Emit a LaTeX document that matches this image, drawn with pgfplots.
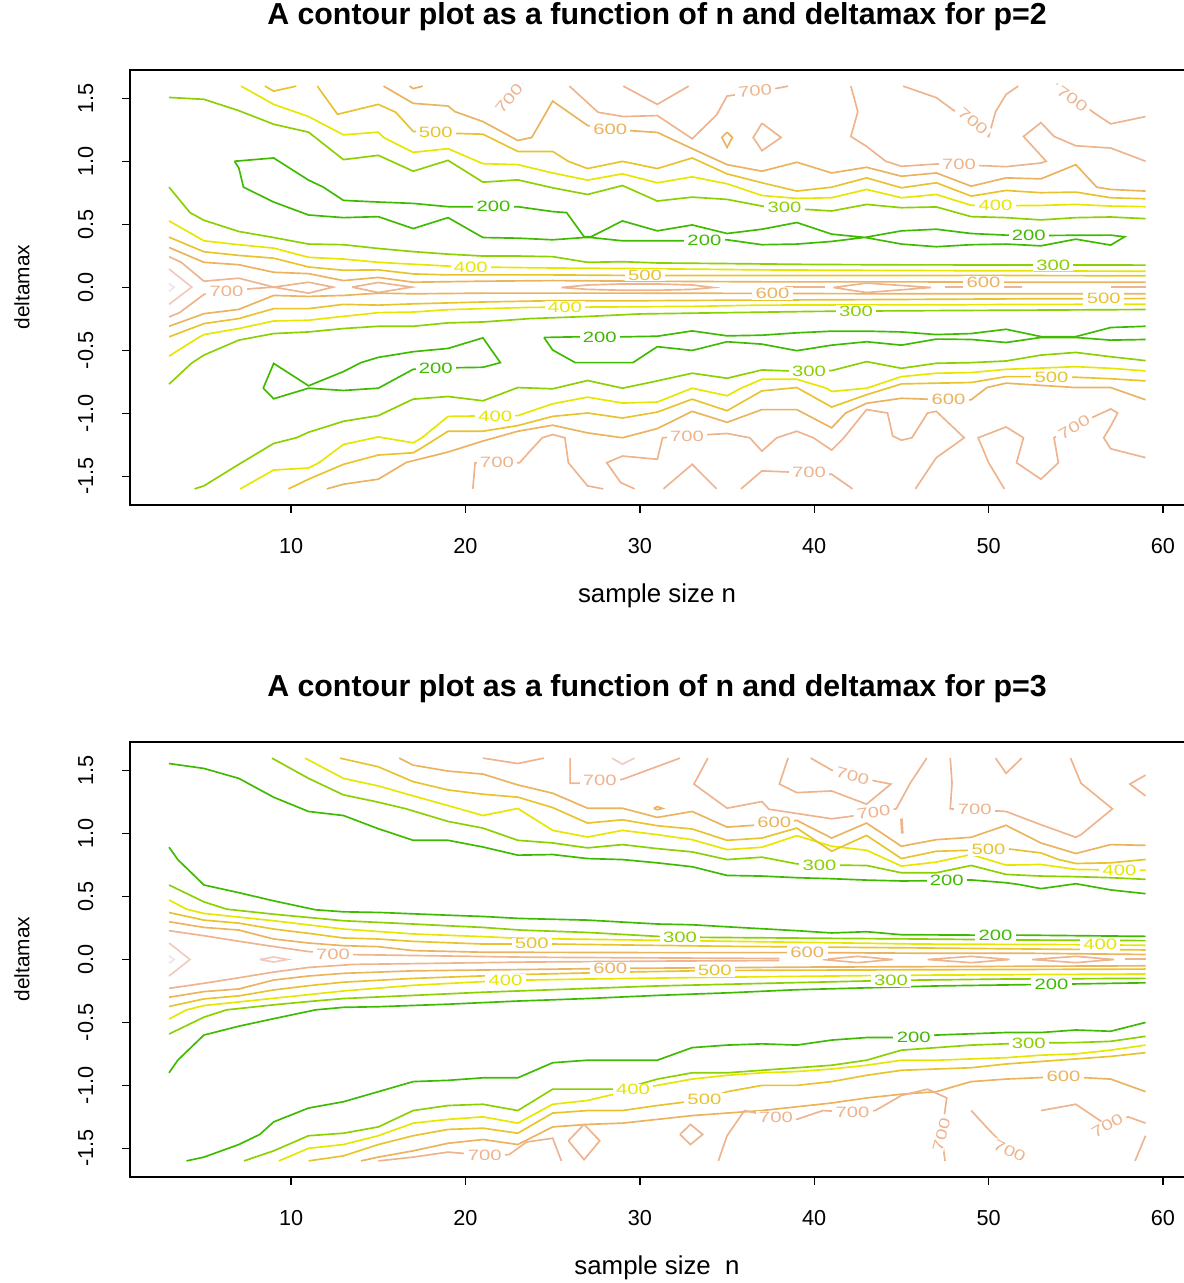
\documentclass[border=0pt]{standalone}
\usepackage{fontspec}
\setmainfont{Liberation Sans}
\usepackage{graphicx}
\usepackage{pgfplots}
\pgfplotsset{compat=1.18}
\definecolor{c200}{HTML}{3EBB00}
\definecolor{c300}{HTML}{8BD000}
\definecolor{c400}{HTML}{E6E600}
\definecolor{c500}{HTML}{E8C32E}
\definecolor{c600}{HTML}{EBB35E}
\definecolor{c700}{HTML}{EDB48E}
\definecolor{c800}{HTML}{F0CAC0}
\definecolor{c900}{HTML}{E8E8E8}
\pgfplotsset{
  rax/.style={
    scale only axis, width=632.76pt, height=261pt,
    xmin=0.76, xmax=61.24, ymin=-1.728, ymax=1.728,
    axis line style={black, line width=0.8pt},
    tick align=outside, xtick pos=left, ytick pos=left,
    major tick length=4.5pt,
    every tick/.style={black, line width=0.8pt},
    xtick={10,20,30,40,50,60},
    xticklabels={10,20,30,40,50,60},
    ytick={-1.5,-1,-0.5,0,0.5,1,1.5},
    yticklabels={-1.5,-1.0,-0.5,0.0,0.5,1.0,1.5},
    /pgf/number format/assume math mode=true,
    ticklabel style={font=\fontsize{13}{13}\selectfont},
    xticklabel style={yshift=-12pt},
    yticklabel style={xshift=-14pt, rotate=90, anchor=south},
  },
  l200/.style={color=c200, line width=1pt, mark=none},
  l300/.style={color=c300, line width=1pt, mark=none},
  l400/.style={color=c400, line width=1pt, mark=none},
  l500/.style={color=c500, line width=1pt, mark=none},
  l600/.style={color=c600, line width=1pt, mark=none},
  l700/.style={color=c700, line width=1pt, mark=none},
  l800/.style={color=c800, line width=1pt, mark=none},
  l900/.style={color=c900, line width=1pt, mark=none},
}
\tikzset{clab/.style={fill=white, inner xsep=2pt, inner ysep=0.5pt, font=\fontsize{9}{9}\selectfont}}
\newcommand{\cl}[5][0]{\node[clab, text=#2, rotate=#1] at (axis cs:#3,#4) {\scalebox{1.35}[1]{#5}};}
\begin{document}
\begin{tikzpicture}
\useasboundingbox (0,0) rectangle (709.8pt,-769.8pt);
% ================= PANEL 1 =================
\begin{axis}[rax, at={(78pt,-42pt)}, anchor=north west]
\addplot[l300] coordinates {(3,1.51)(5,1.495)(7,1.405)(9,1.297)(11,1.234)(13,1.016)(15,1.05)(17,0.924)(19,1.01)(21,0.837)(23,0.855)(25,0.792)(27,0.739)(29,0.81)(31,0.687)(33,0.718)(35,0.70)(37,0.647)(39,0.625)(41,0.608)(43,0.66)(45,0.634)(47,0.64)(49,0.563)(51,0.555)(53,0.537)(55,0.555)(57,0.56)(59,0.547)};
\addplot[l400] coordinates {(7.13,1.6)(9,1.455)(11,1.358)(13,1.213)(15,1.234)(15.3,1.192)(17,1.074)(19,1.103)(21,0.984)(23,0.976)(25,0.91)(27,0.853)(29,0.903)(31,0.832)(33,0.879)(35,0.824)(37,0.731)(39,0.708)(41,0.713)(43,0.779)(45,0.713)(47,0.739)(49,0.653)(51,0.65)(53,0.652)(55,0.66)(57,0.647)(59,0.642)};
\addplot[l500] coordinates {(11.5,1.6)(12.66,1.376)(15,1.455)(16,1.392)(17,1.24)(19,1.226)(21,1.218)(23,1.081)(25,1.081)(25.9,1.002)(27,0.945)(29,1.002)(31,0.945)(33,1.029)(35,0.903)(37,0.832)(39,0.766)(41,0.797)(43,0.871)(45,0.792)(47,0.832)(49,0.726)(51,0.771)(53,0.753)(55,0.758)(57,0.713)(59,0.705)};
\addplot[l600] coordinates {(15.3,1.6)(17,1.463)(19,1.442)(19.4,1.397)(21,1.318)(23,1.168)(23.8,1.192)(25,1.481)(27,1.287)(29,1.25)(31,1.232)(33,1.103)(35,0.976)(37,0.924)(39,0.995)(41,0.91)(43,0.955)(45,0.884)(47,0.91)(49,0.805)(51,0.871)(53,0.863)(55,0.976)(56.2,0.797)(57,0.779)(59,0.766)};
\addplot[l500] coordinates {(8.5,1.6)(9,1.56)(10.3,1.6)};
\addplot[l600] coordinates {(16.8,1.6)(17,1.58)(17.55,1.6)};
\addplot[l700] coordinates {(21.66,1.397)(23.3,1.62)};
\addplot[l700] coordinates {(25.96,1.6)(27.6,1.392)(29.05,1.358)(31,1.366)(33,1.182)(34.4,1.371)(35,1.521)(35.4,1.529)(37.4,1.57)(38.5,1.6)};
\addplot[l700] coordinates {(29.05,1.6)(31,1.455)(32.8,1.6)};
\addplot[l700] coordinates {(37,1.305)(38.1,1.192)(37,1.087)(36.5,1.192)(37,1.305)};
\addplot[l600] coordinates {(35,1.234)(35.3,1.192)(35,1.113)(34.7,1.192)(35,1.234)};
\addplot[l700] coordinates {(42.1,1.6)(42.5,1.397)(42.1,1.2)(43,1.121)(44.1,1.003)(45,0.963)(47,0.981)(49.6,0.968)(51,0.96)(53,0.989)(53.3,1.003)(52,1.2)(53,1.31)(53.75,1.2)(55,1.126)(57,1.108)(59,1.003)};
\addplot[l700] coordinates {(45.1,1.6)(47,1.508)(48.1,1.397)(50,1.2)(50.4,1.397)(51,1.534)(51.7,1.6)};
\addplot[l700] coordinates {(53.9,1.62)(56,1.392)(57,1.3)(59,1.358)};
\addplot[l200] coordinates {(6.75,1.003)(9,1.029)(11,0.853)(11.85,0.797)(13,0.692)(15,0.679)(17,0.668)(19,0.642)(21,0.642)(23,0.642)(25,0.603)(25.8,0.595)(26.8,0.403)(27.2,0.403)(29,0.529)(31,0.45)(33,0.497)(35,0.429)(37,0.463)(39,0.516)(41,0.424)(42.9,0.398)(45,0.45)(47,0.463)(49,0.429)(51,0.416)(53,0.413)(55,0.415)(57,0.416)(57.8,0.403)(57,0.337)(55,0.384)(53,0.331)(51,0.345)(49,0.34)(47,0.324)(45,0.345)(42.9,0.398)(41,0.366)(39,0.345)(37,0.34)(35,0.379)(33,0.371)(31,0.371)(29,0.371)(27.2,0.397)(26.8,0.397)(25,0.379)(23,0.392)(21,0.397)(19,0.555)(17,0.468)(15,0.563)(13,0.555)(11,0.576)(9,0.679)(7.27,0.797)(7,0.95)(6.75,1.003)};
\addplot[l300] coordinates {(3,0.797)(4.2,0.595)(5,0.534)(7,0.445)(9,0.397)(11,0.345)(13,0.34)(15,0.31)(17,0.285)(19,0.265)(21,0.25)(23,0.25)(25,0.245)(27,0.2)(29,0.205)(31,0.195)(35,0.19)(40,0.183)(45,0.18)(50,0.179)(59,0.178)};
\addplot[l400] coordinates {(3,0.529)(5,0.371)(7,0.34)(9,0.313)(11,0.24)(13,0.226)(15,0.2)(17,0.185)(19,0.17)(21,0.162)(25,0.155)(30,0.15)(37,0.14)(45,0.135)(52,0.132)(59,0.129)};
\addplot[l500] coordinates {(3,0.40)(5,0.284)(7,0.255)(9,0.233)(11,0.163)(13,0.137)(15,0.14)(17,0.108)(19,0.1)(21,0.1)(25,0.1)(30,0.095)(37,0.095)(45,0.095)(52,0.095)(59,0.093)};
\addplot[l600] coordinates {(3,0.318)(5,0.2)(7,0.181)(9,0.121)(11,0.11)(13,0.055)(15,0.08)(17,0.042)(21,0.05)(25,0.055)(30,0.05)(37,0.045)(45,0.045)(52,0.042)(59,0.042)};
\addplot[l700] coordinates {(3,0.245)(3.7,0.2)(5,0.05)(7,0.074)(9,0.003)};
\addplot[l700] coordinates {(3,-0.234)(3.6,-0.2)(5,-0.055)(7.65,-0.01)(9,0.003)};
\addplot[l700] coordinates {(9,0.003)(11,0.042)(12.4,0.003)(11,-0.045)(9,0.003)};
\addplot[l700] coordinates {(13.5,0.003)(15,0.04)(16.9,0.003)(15,-0.04)(13.5,0.003)};
\addplot[l700] coordinates {(25.5,0)(27,0.02)(29,0.028)(31,0.028)(33,0.02)(34.2,0)(33,-0.015)(31,-0.022)(29,-0.022)(27,-0.015)(25.5,0)};
\addplot[l700] coordinates {(41.1,0)(43,0.035)(46.7,0)(43,-0.04)(41.1,0)};
\addplot[l700] coordinates {(38.3,0.003)(40.6,0.003)};
\addplot[l700] coordinates {(47.5,0.003)(51.9,0.003)};
\addplot[l700] coordinates {(57,0.003)(59,0.003)};
\addplot[l800] coordinates {(3,0.147)(4.3,0.003)(3,-0.134)};
\addplot[l900] coordinates {(3,0.03)(3.3,0.003)(3,-0.03)};
\addplot[l600] coordinates {(3,-0.308)(5,-0.208)(7,-0.174)(9,-0.063)(11,-0.071)(13,-0.063)(15,-0.045)(17,-0.05)(21,-0.045)(25,-0.045)(30,-0.045)(37,-0.047)(45,-0.05)(52,-0.05)(59,-0.05)};
\addplot[l500] coordinates {(3,-0.392)(5,-0.287)(7,-0.247)(9,-0.168)(11,-0.168)(13,-0.134)(15,-0.14)(17,-0.13)(21,-0.115)(25,-0.105)(30,-0.105)(37,-0.1)(45,-0.095)(52,-0.09)(59,-0.088)};
\addplot[l400] coordinates {(3,-0.545)(4.6,-0.405)(5,-0.374)(7,-0.326)(9,-0.266)(11,-0.26)(13,-0.229)(15,-0.2)(17,-0.195)(19,-0.176)(21,-0.168)(23.7,-0.158)(28,-0.155)(33,-0.15)(37,-0.14)(45,-0.138)(52,-0.135)(59,-0.132)};
\addplot[l300] coordinates {(3,-0.768)(4.3,-0.6)(5,-0.537)(7,-0.418)(9,-0.366)(11,-0.353)(13,-0.326)(15,-0.308)(17,-0.308)(19,-0.281)(21,-0.274)(23.7,-0.247)(27,-0.23)(30,-0.21)(35,-0.2)(40,-0.19)(45,-0.185)(52,-0.18)(59,-0.175)};
\addplot[l200] coordinates {(8.4,-0.8)(9,-0.603)(11,-0.781)(13,-0.668)(14,-0.597)(15,-0.555)(17,-0.51)(19,-0.484)(21,-0.4)(22,-0.597)(21,-0.634)(19.6,-0.637)(17,-0.65)(15,-0.8)(13,-0.818)(11,-0.8)(9,-0.884)(8.4,-0.8)};
\addplot[l200] coordinates {(24.5,-0.397)(26.3,-0.392)(29,-0.392)(31,-0.387)(33,-0.345)(35,-0.384)(37,-0.379)(39,-0.36)(41,-0.347)(43,-0.347)(45,-0.353)(47,-0.374)(49,-0.366)(51,-0.332)(53,-0.39)(55,-0.39)(57,-0.318)(59,-0.308)};
\addplot[l200] coordinates {(24.5,-0.397)(25,-0.497)(26.3,-0.597)(29.6,-0.597)(31,-0.47)(33,-0.5)(35,-0.431)(37,-0.45)(39,-0.502)(41,-0.458)(43,-0.431)(45,-0.458)(47,-0.41)(49,-0.413)(51,-0.437)(53,-0.397)(55,-0.397)(57,-0.418)(59,-0.413)};
\addplot[l300] coordinates {(4.46,-1.6)(5,-1.576)(7,-1.405)(9,-1.239)(10.3,-1.194)(11,-1.15)(13,-1.063)(15,-1.018)(17,-0.887)(19,-0.866)(21,-0.9)(23,-0.795)(25,-0.805)(27,-0.739)(29,-0.8)(31,-0.742)(33,-0.681)(35,-0.721)(37,-0.655)(39,-0.665)(41,-0.66)(43,-0.589)(45,-0.642)(47,-0.602)(49,-0.597)(51,-0.584)(53,-0.537)(55,-0.516)(57,-0.55)(59,-0.581)};
\addplot[l400] coordinates {(7.08,-1.6)(9,-1.45)(11,-1.434)(11.6,-1.392)(13,-1.247)(15,-1.187)(17,-1.234)(17.5,-1.194)(19,-1.024)(21,-1.02)(23,-1.018)(25,-0.924)(27,-0.871)(29,-0.918)(31,-0.91)(33,-0.8)(35,-0.86)(35.8,-0.8)(37,-0.729)(39,-0.729)(40.7,-0.8)(41,-0.826)(43,-0.8)(45,-0.708)(47,-0.681)(49,-0.676)(51,-0.65)(53,-0.64)(55,-0.629)(57,-0.642)(59,-0.663)};
\addplot[l500] coordinates {(9.85,-1.6)(11,-1.523)(13,-1.405)(15,-1.331)(17,-1.313)(17.5,-1.273)(19,-1.142)(21,-1.142)(23,-1.097)(25,-1.024)(27,-0.997)(29,-1.037)(31,-0.99)(33,-0.887)(35,-0.979)(37,-0.821)(39,-0.795)(41,-0.95)(43,-0.852)(45,-0.766)(47,-0.76)(49,-0.755)(51,-0.708)(53,-0.708)(55,-0.713)(57,-0.725)(59,-0.742)};
\addplot[l600] coordinates {(12.05,-1.6)(13,-1.563)(15,-1.523)(16.6,-1.39)(19,-1.307)(21,-1.22)(23,-1.142)(25,-1.094)(27,-1.155)(29,-1.194)(31,-1.121)(33,-0.984)(35,-1.071)(37,-0.97)(39,-0.97)(41,-1.115)(41.8,-0.997)(43,-0.92)(45,-0.88)(47,-0.89)(49,-0.892)(49.9,-0.795)(51,-0.76)(55,-0.795)(57,-0.795)(59,-0.892)};
\addplot[l700] coordinates {(20.42,-1.6)(20.55,-1.392)(23.1,-1.392)(23.7,-1.3)(24.4,-1.194)(25,-1.168)(25.7,-1.194)(25.9,-1.392)(27,-1.576)(27.9,-1.6)};
\addplot[l700] coordinates {(29.7,-1.6)(28.9,-1.55)(28.1,-1.392)(29,-1.339)(31,-1.365)(31.3,-1.194)(34,-1.168)(35,-1.16)(36.3,-1.194)(37,-1.3)(37.85,-1.194)(39,-1.142)(39.95,-1.194)(41,-1.292)(41.7,-1.194)(43,-0.97)(44.2,-0.997)(44.5,-1.18)(45,-1.213)(45.6,-1.194)(46.5,-0.997)(47,-0.984)(48.6,-1.194)(47,-1.352)(45.8,-1.6)};
\addplot[l700] coordinates {(31.35,-1.6)(33,-1.405)(34.4,-1.6)};
\addplot[l700] coordinates {(35.8,-1.6)(37,-1.457)(38.4,-1.465)(41,-1.484)(42.2,-1.6)};
\addplot[l700] coordinates {(50.9,-1.6)(50,-1.392)(49.4,-1.194)(51,-1.108)(52,-1.194)(51.6,-1.392)(53,-1.523)(54,-1.392)(53.75,-1.194)(56,-1.029)(57,-0.965)(57.4,-0.997)(57,-1.102)(56.6,-1.194)(57,-1.281)(59,-1.352)};
\cl{c300}{38.3}{0.635}{300}
\cl{c400}{50.4}{0.65}{400}
\cl{c500}{18.3}{1.23}{500}
\cl{c600}{28.3}{1.26}{600}
\cl[50]{c700}{22.5}{1.5}{700}
\cl[5]{c700}{36.6}{1.56}{700}
\cl{c700}{48.3}{0.975}{700}
\cl[-40]{c700}{49.1}{1.32}{700}
\cl[-35]{c700}{54.8}{1.5}{700}
\cl{c200}{21.6}{0.642}{200}
\cl{c200}{33.7}{0.376}{200}
\cl{c200}{52.3}{0.414}{200}
\cl{c300}{53.7}{0.179}{300}
\cl{c400}{20.3}{0.162}{400}
\cl{c500}{30.3}{0.098}{500}
\cl{c600}{49.7}{0.042}{600}
\cl{c700}{6.3}{-0.03}{700}
\cl{c600}{37.6}{-0.047}{600}
\cl{c500}{56.6}{-0.088}{500}
\cl{c400}{25.7}{-0.157}{400}
\cl{c300}{42.4}{-0.187}{300}
\cl{c200}{18.3}{-0.64}{200}
\cl{c200}{27.7}{-0.392}{200}
\cl{c300}{39.7}{-0.663}{300}
\cl{c400}{21.7}{-1.02}{400}
\cl{c500}{53.6}{-0.71}{500}
\cl{c600}{47.7}{-0.892}{600}
\cl{c700}{21.8}{-1.392}{700}
\cl{c700}{32.7}{-1.18}{700}
\cl{c700}{39.7}{-1.47}{700}
\cl[30]{c700}{54.9}{-1.11}{700}
\end{axis}
% ================= PANEL 2 =================
\begin{axis}[rax, at={(78pt,-445.2pt)}, anchor=north west]
\addplot[l200] coordinates {(3,1.557)(5,1.518)(7,1.439)(9,1.289)(11,1.176)(13,1.144)(15,1.039)(17,0.947)(19,0.947)(21,0.894)(23,0.829)(25,0.834)(27,0.802)(29,0.794)(31,0.768)(33,0.737)(35,0.668)(37,0.663)(39,0.65)(41,0.642)(43,0.631)(45,0.624)(47,0.626)(49,0.632)(51,0.61)(51.7,0.597)(53,0.563)(55,0.602)(57,0.553)(59,0.523)};
\addplot[l300] coordinates {(8.9,1.6)(11,1.439)(13,1.308)(15,1.25)(16.6,1.197)(19,1.097)(21,1.044)(23,0.947)(25,0.926)(27,0.887)(29,0.913)(31,0.881)(33,0.855)(35,0.794)(37,0.813)(39,0.76)(41,0.75)(43,0.747)(45,0.689)(47,0.689)(49,0.747)(51,0.676)(53,0.663)(55,0.658)(57,0.65)(59,0.637)};
\addplot[l400] coordinates {(10.8,1.6)(13,1.439)(15,1.379)(17,1.3)(19,1.223)(21,1.144)(23,1.2)(25,1.026)(27,0.973)(29,1.026)(31,0.992)(33,0.952)(35,0.873)(37,0.892)(39,0.984)(41,0.9)(43,0.868)(45,0.742)(47,0.774)(49,0.834)(51,0.75)(53,0.755)(55,0.716)(57,0.712)(59,0.71)};
\addplot[l500] coordinates {(12.8,1.6)(15,1.531)(17,1.413)(19,1.347)(21,1.313)(23,1.29)(25,1.207)(27,1.084)(29,1.11)(31,1.063)(33,1.037)(35,0.947)(37,0.965)(39,1.044)(41,0.86)(43,0.986)(45,0.802)(47,0.86)(49,0.868)(51,0.881)(53,0.847)(54,0.795)(55,0.763)(57,0.768)(59,0.795)};
\addplot[l600] coordinates {(16.2,1.6)(17,1.544)(19,1.497)(21,1.473)(23,1.387)(25,1.321)(27,1.202)(29,1.202)(31,1.129)(33,1.176)(35,1.052)(37,1.071)(39,1.105)(41,0.965)(43,1.084)(45,0.9)(47,0.952)(49,0.971)(51,1.066)(53,0.926)(55,0.842)(57,0.913)(59,0.907)};
\addplot[l700] coordinates {(21,1.6)(23,1.557)(24.5,1.6)};
\addplot[l700] coordinates {(26,1.6)(26,1.4)(26.4,1.4)(29,1.431)(32.3,1.6)};
\addplot[l800] coordinates {(28.4,1.6)(29,1.552)(29.7,1.6)};
\addplot[l700] coordinates {(33.9,1.6)(33.1,1.394)(35,1.202)(37,1.255)(37.4,1.194)(41,1.118)(42,1.136)(44.7,1.197)(45.5,1.4)(46.45,1.6)};
\addplot[l700] coordinates {(38.5,1.6)(38,1.394)(39,1.326)(41,1.339)(43,1.234)(44.4,1.394)(43.5,1.418)(41,1.505)(39.8,1.6)};
\addplot[l700] coordinates {(47.8,1.6)(47.9,1.4)(47.8,1.197)(49.2,1.185)(50.5,1.18)(51,1.176)(53,1.071)(55,0.971)(55.3,0.992)(57.1,1.197)(55.3,1.4)(54.7,1.6)};
\addplot[l700] coordinates {(50.4,1.6)(51,1.479)(51.9,1.6)};
\addplot[l700] coordinates {(59,1.465)(58.1,1.394)(59,1.3)};
\addplot[l700, line width=1.6pt] coordinates {(45,1.12)(45.05,1.0)};
\addplot[l600] coordinates {(30.8,1.2)(31,1.215)(31.3,1.2)(31,1.19)(30.8,1.2)};
\addplot[l200] coordinates {(3,0.892)(3.5,0.794)(5,0.592)(7,0.531)(9,0.466)(11.4,0.395)(13,0.379)(15,0.374)(19,0.352)(21,0.342)(23.13,0.326)(27,0.313)(31,0.282)(33,0.276)(35,0.26)(39,0.229)(41,0.211)(43,0.221)(45,0.197)(49,0.194)(51.6,0.194)(59,0.184)};
\addplot[l300] coordinates {(3,0.592)(5,0.458)(6.3,0.4)(9,0.36)(11,0.334)(13,0.308)(15,0.295)(17,0.282)(19,0.268)(21,0.255)(23.13,0.234)(27,0.215)(31,0.184)(33.6,0.176)(46,0.163)(52,0.155)(59,0.15)};
\addplot[l400] coordinates {(3,0.473)(4,0.4)(5,0.366)(9,0.308)(13,0.242)(17,0.203)(21,0.182)(23.13,0.168)(35,0.145)(46,0.123)(55,0.118)(59,0.113)};
\addplot[l500] coordinates {(3,0.373)(5,0.313)(7,0.289)(9,0.242)(11,0.208)(13,0.171)(15,0.163)(17,0.144)(21,0.123)(25,0.123)(35,0.105)(46,0.092)(52,0.084)(59,0.076)};
\addplot[l600] coordinates {(3,0.3)(5,0.255)(7,0.234)(9,0.163)(11,0.131)(13,0.11)(15,0.102)(17,0.071)(21,0.058)(30,0.055)(39.6,0.055)(46,0.05)(52,0.05)(59,0.04)};
\addplot[l700] coordinates {(3,0.229)(5,0.189)(7,0.145)(9,0.103)(11,0.063)(13.6,0.039)(23.7,0.018)(32,0.012)(38,0.008)};
\addplot[l800] coordinates {(3,0.131)(4.2,0)(3,-0.131)};
\addplot[l900] coordinates {(3,0.03)(3.3,0)(3,-0.03)};
\addplot[l800] coordinates {(8.2,0)(9,0.02)(9.8,0)(9,-0.02)(8.2,0)};
\addplot[l700] coordinates {(3,-0.229)(5,-0.189)(7,-0.145)(9,-0.1)(11,-0.063)(13.6,-0.039)(23.7,-0.02)(32,-0.012)(38,-0.008)};
\addplot[l700] coordinates {(40.5,0)(42.5,0.025)(44.5,0)(42.5,-0.025)(40.5,0)};
\addplot[l700] coordinates {(46.5,0)(49,0.025)(51.2,0)(49,-0.025)(46.5,0)};
\addplot[l700] coordinates {(52.5,0)(55,0.025)(57.2,0)(55,-0.025)(52.5,0)};
\addplot[l700] coordinates {(57.8,0.005)(59,0.005)};
\addplot[l600] coordinates {(3,-0.3)(5,-0.255)(7,-0.234)(9,-0.163)(11,-0.131)(13,-0.11)(17,-0.09)(23,-0.08)(28.3,-0.071)(40,-0.06)(50,-0.055)(59,-0.05)};
\addplot[l500] coordinates {(3,-0.373)(5,-0.313)(7,-0.289)(9,-0.242)(11,-0.208)(13,-0.18)(17,-0.15)(23,-0.12)(29,-0.1)(34.3,-0.087)(45,-0.082)(59,-0.076)};
\addplot[l400] coordinates {(3,-0.473)(4,-0.4)(5,-0.366)(9,-0.308)(13,-0.25)(17,-0.205)(22.3,-0.166)(27,-0.155)(35,-0.14)(45,-0.125)(59,-0.115)};
\addplot[l300] coordinates {(3,-0.592)(5,-0.458)(6.3,-0.4)(9,-0.36)(11,-0.334)(13,-0.31)(17,-0.285)(21,-0.26)(25,-0.24)(31,-0.21)(37,-0.19)(44.4,-0.166)(51,-0.155)(59,-0.15)};
\addplot[l200] coordinates {(3,-0.9)(3.5,-0.8)(5,-0.6)(7,-0.53)(9,-0.47)(11.4,-0.4)(13,-0.38)(15,-0.375)(19,-0.355)(23,-0.33)(27,-0.31)(31,-0.285)(35,-0.265)(39,-0.24)(43,-0.225)(47,-0.21)(53.6,-0.197)(59,-0.185)};
\addplot[l200] coordinates {(4,-1.6)(5,-1.57)(7,-1.47)(8.2,-1.39)(9,-1.29)(11,-1.18)(13,-1.13)(15,-1.05)(17,-0.97)(19,-0.96)(21,-0.94)(23,-0.94)(25,-0.82)(27,-0.8)(29,-0.8)(31,-0.8)(33,-0.7)(35,-0.68)(37,-0.67)(39,-0.68)(41,-0.64)(43,-0.62)(45,-0.62)(47,-0.6)(49,-0.59)(51,-0.58)(53,-0.58)(55,-0.56)(57,-0.57)(59,-0.5)};
\addplot[l300] coordinates {(7.3,-1.6)(9,-1.52)(11,-1.4)(13,-1.38)(15,-1.33)(17,-1.2)(19,-1.16)(21,-1.15)(23,-1.2)(25,-1.03)(27,-1.03)(29,-1.03)(31,-0.95)(33,-0.9)(35,-0.9)(37,-0.88)(39,-0.86)(41,-0.84)(43,-0.8)(45,-0.72)(47,-0.7)(49,-0.68)(52.3,-0.663)(55,-0.66)(57,-0.65)(59,-0.61)};
\addplot[l400] coordinates {(9.3,-1.6)(11,-1.5)(13,-1.47)(15,-1.4)(17,-1.3)(19,-1.27)(21,-1.25)(23,-1.3)(25,-1.15)(27,-1.12)(29.6,-1.034)(31,-1.0)(33,-0.95)(35,-0.92)(37,-0.9)(39,-0.89)(41,-0.87)(43,-0.84)(45,-0.8)(47,-0.8)(49,-0.79)(51,-0.78)(53,-0.76)(55,-0.75)(57,-0.72)(59,-0.68)};
\addplot[l500] coordinates {(11,-1.6)(13,-1.56)(15,-1.47)(17,-1.4)(19,-1.35)(21,-1.34)(23,-1.38)(25,-1.22)(27,-1.2)(29,-1.2)(31,-1.16)(33.7,-1.113)(35,-1.05)(37,-1.0)(39,-1.0)(41,-0.97)(43,-0.92)(45,-0.88)(47,-0.87)(49,-0.86)(51,-0.83)(53,-0.81)(55,-0.79)(57,-0.77)(59,-0.74)};
\addplot[l600] coordinates {(14,-1.6)(15,-1.57)(17,-1.52)(19,-1.46)(21,-1.43)(23,-1.47)(25,-1.33)(27,-1.31)(29,-1.3)(31,-1.27)(33,-1.24)(35,-1.22)(37,-1.2)(39,-1.17)(41,-1.14)(43,-1.1)(45,-1.07)(47,-1.05)(49,-0.97)(51,-0.95)(54.3,-0.93)(57,-0.95)(59,-1.05)};
\addplot[l700] coordinates {(15,-1.6)(17,-1.57)(19,-1.53)(21.1,-1.555)(22.5,-1.55)(23.5,-1.45)(25,-1.42)(25.5,-1.6)};
\addplot[l700] coordinates {(25.9,-1.44)(26.8,-1.31)(27.7,-1.44)(26.8,-1.59)(25.9,-1.44)};
\addplot[l700] coordinates {(32.3,-1.39)(32.9,-1.31)(33.6,-1.39)(32.9,-1.47)(32.3,-1.39)};
\addplot[l700] coordinates {(34.5,-1.6)(35,-1.4)(36,-1.2)(37.8,-1.255)(39,-1.27)(40.5,-1.2)(42.2,-1.215)(43.5,-1.2)(45,-1.08)(46.5,-1.03)(47.6,-1.1)(47.3,-1.39)(47.5,-1.6)};
\addplot[l700] coordinates {(49,-1.2)(50,-1.35)(51.2,-1.523)(52,-1.6)};
\addplot[l700] coordinates {(53,-1.2)(55,-1.15)(56.8,-1.318)(58,-1.25)(59,-1.3)};
\addplot[l700] coordinates {(59,-1.4)(58.4,-1.6)};
\cl{c700}{27.7}{1.42}{700}
\cl[8]{c700}{43.4}{1.17}{700}
\cl[-15]{c700}{42.2}{1.46}{700}
\cl{c700}{49.2}{1.19}{700}
\cl{c600}{37.7}{1.09}{600}
\cl{c500}{50}{0.872}{500}
\cl{c400}{57.5}{0.71}{400}
\cl{c300}{40.3}{0.75}{300}
\cl{c200}{47.6}{0.63}{200}
\cl{c200}{50.4}{0.194}{200}
\cl{c300}{32.3}{0.176}{300}
\cl{c400}{56.4}{0.118}{400}
\cl{c500}{23.8}{0.125}{500}
\cl{c600}{39.6}{0.055}{600}
\cl{c700}{12.4}{0.045}{700}
\cl{c600}{28.3}{-0.071}{600}
\cl{c500}{34.3}{-0.087}{500}
\cl{c400}{22.3}{-0.166}{400}
\cl{c300}{44.4}{-0.166}{300}
\cl{c200}{53.6}{-0.197}{200}
\cl{c200}{45.7}{-0.62}{200}
\cl{c300}{52.3}{-0.663}{300}
\cl{c400}{29.6}{-1.034}{400}
\cl{c500}{33.7}{-1.113}{500}
\cl{c600}{54.3}{-0.93}{600}
\cl{c700}{21.1}{-1.555}{700}
\cl{c700}{37.8}{-1.255}{700}
\cl{c700}{42.2}{-1.215}{700}
\cl[75]{c700}{47.3}{-1.39}{700}
\cl[-25]{c700}{51.2}{-1.52}{700}
\cl[30]{c700}{56.8}{-1.318}{700}
\end{axis}
\node[font=\bfseries\fontsize{18.2}{18.2}\selectfont] at (394.2pt,-10.2pt) {A contour plot as a function of n and deltamax for p=2};
\node[font=\bfseries\fontsize{18.2}{18.2}\selectfont] at (394.2pt,-413.4pt) {A contour plot as a function of n and deltamax for p=3};
\node[font=\fontsize{15.5}{15.5}\selectfont] at (394.2pt,-357.6pt) {sample size n};
\node[font=\fontsize{15.5}{15.5}\selectfont] at (394.2pt,-760.8pt) {sample size\ \ n};
\node[font=\fontsize{12.5}{12.5}\selectfont, rotate=90] at (13.2pt,-172.2pt) {deltamax};
\node[font=\fontsize{12.5}{12.5}\selectfont, rotate=90] at (13.2pt,-575.4pt) {deltamax};
\end{tikzpicture}
\end{document}
